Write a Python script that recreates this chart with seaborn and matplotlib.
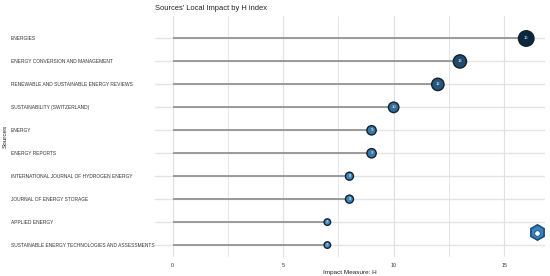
import matplotlib
matplotlib.use("Agg")
import matplotlib.pyplot as plt
import seaborn as sns
import pandas as pd
import numpy as np
from matplotlib.colors import LinearSegmentedColormap

sources = [
    "ENERGIES",
    "ENERGY CONVERSION AND MANAGEMENT",
    "RENEWABLE AND SUSTAINABLE ENERGY REVIEWS",
    "SUSTAINABILITY (SWITZERLAND)",
    "ENERGY",
    "ENERGY REPORTS",
    "INTERNATIONAL JOURNAL OF HYDROGEN ENERGY",
    "JOURNAL OF ENERGY STORAGE",
    "APPLIED ENERGY",
    "SUSTAINABLE ENERGY TECHNOLOGIES AND ASSESSMENTS",
]
h_index = [16, 13, 12, 10, 9, 9, 8, 8, 7, 7]
x_ticks = [0, 5, 10, 15]

df = pd.DataFrame({"source": sources, "h": h_index})
df["pos"] = np.arange(len(df))

sns.set_theme(style="whitegrid")
plt.rcParams["font.family"] = ["Liberation Sans", "DejaVu Sans"]

fig = plt.figure(figsize=(5.5, 2.76), dpi=100)
ax = fig.add_axes([155 / 550, 1 - 257 / 276, 390 / 550, 241 / 276])

ax.set_xlim(-0.8, 16.85)
ax.set_ylim(len(df) - 1 + 0.52, -0.98)

for p in df["pos"]:
    ax.axhline(p, color="#e4e4e4", lw=1.0, zorder=0)
for xv in np.arange(0, 17.5, 2.5):
    ax.axvline(xv, color="#e0e0e0", lw=0.8 if xv % 5 == 0 else 0.6, zorder=0)

ax.hlines(df["pos"], 0, df["h"], color="#949494", lw=1.3, zorder=1)

cmap = LinearSegmentedColormap.from_list("b", ["#4690c6", "#0b2840"])
sns.scatterplot(
    data=df, x="h", y="pos", hue="h", size="h",
    palette=cmap, hue_norm=(7, 16), sizes=(22, 125), size_norm=(7, 16),
    edgecolor="#14202c", linewidth=1.0, legend=False, ax=ax, zorder=3,
)
for _, r in df.iterrows():
    ax.text(r["h"], r["pos"], str(r["h"]), color="white", fontsize=3.0,
            ha="center", va="center", zorder=4)

ax.grid(False)
ax.set_xticks(x_ticks)
ax.set_xticklabels([str(t) for t in x_ticks])
ax.set_yticks(df["pos"])
ax.set_yticklabels(df["source"])
ax.tick_params(axis="x", labelsize=3.8, colors="#333333", length=0, pad=4)
ax.tick_params(axis="y", labelsize=3.5, colors="#333333", length=0, pad=0)
for lbl in ax.get_yticklabels():
    lbl.set_ha("left")
    lbl.set_x(-144 / 390)
for s in ax.spines.values():
    s.set_visible(False)

ax.set_xlabel("Impact Measure: H", fontsize=4.6, color="#222222", labelpad=2)
ax.set_ylabel("")
fig.text(5 / 550, 1 - 136 / 276, "Sources", rotation=90, fontsize=4.6,
         color="#222222", ha="center", va="center")
fig.text(155 / 550, 1 - 9 / 276, "Sources' Local Impact by H index",
         fontsize=5.4, color="#222222", ha="left", va="center")

# small hexagon logo
fig.add_artist(plt.Line2D([537 / 550], [1 - 232 / 276], marker="h", markersize=11,
                          markerfacecolor="#3a82bd", markeredgecolor="#1b4c80",
                          markeredgewidth=1.2, transform=fig.transFigure))
fig.add_artist(plt.Line2D([537 / 550], [1 - 233 / 276], marker="o", markersize=4,
                          markerfacecolor="white", markeredgecolor="#1b4c80",
                          markeredgewidth=0.6, transform=fig.transFigure))

fig.savefig("out.png", dpi=100)
